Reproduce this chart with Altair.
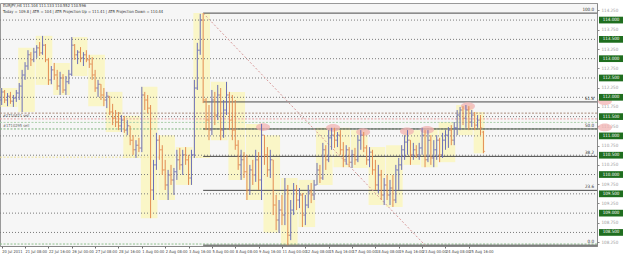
import altair as alt
import pandas as pd

# ---------------- data ----------------
high = [112.24, 112.19, 112.11, 112.14, 112.06, 112.19, 112.37, 112.71, 112.91, 113.22,
        113.17, 113.28, 113.35, 113.43, 113.59, 113.38, 113.02, 112.81, 112.89, 112.71,
        112.66, 112.60, 112.55, 112.71, 113.56, 113.38, 113.22, 113.30, 113.17, 113.22,
        113.10, 113.04, 112.71, 112.45, 112.34, 112.24, 112.14, 112.03, 111.83, 111.67,
        111.62, 111.54, 111.52, 111.41, 111.26, 111.02, 110.89, 110.95, 112.27, 112.14,
        112.06, 111.80, 110.38, 111.08, 111.02, 110.76, 110.38, 110.12, 110.25, 110.17,
        110.64, 110.69, 110.64, 110.71, 110.51, 110.64, 112.45, 113.41, 114.16, 114.18,
        111.98, 111.80, 112.19, 112.14, 112.32, 112.24, 111.93, 112.40, 112.14, 112.06,
        111.93, 110.89, 110.64, 110.58, 110.51, 110.25, 110.38, 110.64, 110.58, 111.31,
        111.02, 110.71, 110.64, 110.38, 109.47, 109.34, 109.47, 109.91, 109.73, 109.34,
        109.78, 109.73, 109.65, 109.52, 109.47, 109.73, 109.78, 109.86, 110.30, 110.25,
        110.82, 110.76, 111.15, 111.21, 111.21, 111.10, 111.15, 110.84, 110.76, 110.71,
        110.64, 110.69, 111.02, 111.15, 111.10, 110.76, 110.71, 110.64, 110.38, 110.25,
        110.12, 109.91, 109.99, 109.86, 109.99, 110.25, 110.43, 110.76, 111.02, 111.15,
        110.89, 110.82, 110.76, 110.82, 111.21, 111.15, 111.15, 111.02, 110.89, 111.02,
        110.95, 111.08, 111.15, 111.23, 111.28, 111.36, 111.67, 111.75, 111.77, 111.80,
        111.77, 111.67, 111.62, 111.54, 111.54, 111.13]
low = [111.80, 111.85, 111.77, 111.83, 111.75, 111.88, 111.93, 111.62, 112.45, 112.71,
       112.81, 112.91, 113.02, 113.07, 113.10, 112.91, 112.32, 112.34, 112.45, 112.19,
       112.06, 112.11, 112.06, 112.34, 112.55, 112.97, 112.86, 112.91, 112.81, 112.91,
       112.76, 112.45, 112.14, 112.01, 111.93, 111.77, 111.72, 111.54, 111.28, 111.23,
       111.15, 111.10, 111.08, 111.02, 110.76, 110.51, 110.43, 110.58, 110.58, 111.67,
       111.59, 108.87, 109.34, 110.12, 110.38, 109.99, 109.60, 109.34, 109.73, 109.47,
       109.86, 110.12, 109.99, 110.25, 109.73, 109.73, 110.43, 112.19, 113.10, 111.85,
       111.15, 110.89, 111.02, 111.28, 111.41, 110.89, 110.95, 111.54, 111.15, 110.89,
       110.64, 110.12, 109.86, 109.91, 109.34, 109.47, 109.73, 109.81, 109.60, 109.34,
       110.25, 109.94, 109.91, 108.95, 108.56, 108.49, 108.69, 108.69, 108.17, 108.30,
       108.95, 109.08, 109.13, 108.64, 108.69, 109.13, 109.26, 109.34, 109.73, 109.78,
       109.86, 110.12, 110.32, 110.64, 110.69, 110.71, 110.51, 110.19, 110.25, 110.19,
       110.17, 110.25, 110.32, 110.64, 110.58, 110.25, 110.19, 109.99, 109.60, 109.52,
       109.34, 109.21, 109.34, 109.21, 109.16, 109.26, 109.60, 110.12, 110.38, 110.51,
       110.25, 110.38, 110.43, 110.38, 110.51, 110.19, 110.32, 110.25, 110.19, 110.38,
       110.32, 110.43, 110.64, 110.69, 110.76, 110.76, 111.02, 111.15, 111.28, 111.21,
       111.15, 111.23, 111.15, 111.21, 111.02, 110.55]
open_ = [111.93, 112.14, 111.93, 112.03, 111.90, 111.98, 112.11, 112.29, 112.58, 112.81,
         113.10, 112.97, 113.17, 113.28, 113.15, 113.35, 112.97, 112.45, 112.71, 112.58,
         112.29, 112.50, 112.19, 112.40, 112.60, 113.35, 113.10, 113.17, 113.02, 113.10,
         112.97, 112.86, 112.58, 112.24, 112.34, 112.06, 111.93, 112.03, 111.62, 111.46,
         111.36, 111.26, 111.41, 111.15, 111.26, 110.89, 110.64, 110.76, 110.69, 112.06,
         111.93, 111.72, 109.60, 110.25, 110.89, 110.64, 110.12, 109.73, 109.99, 109.86,
         110.07, 110.38, 110.25, 110.51, 110.38, 109.91, 110.51, 112.24, 113.22, 114.00,
         111.93, 111.41, 111.15, 111.93, 111.54, 112.06, 111.15, 111.67, 112.06, 111.41,
         111.15, 110.76, 110.25, 110.38, 110.07, 109.60, 110.12, 109.99, 110.38, 109.86,
         111.02, 110.51, 110.12, 110.38, 109.21, 108.82, 109.08, 108.95, 109.60, 108.43,
         109.08, 109.60, 109.34, 109.47, 108.95, 109.21, 109.55, 109.47, 109.73, 110.12,
         109.91, 110.64, 110.38, 110.95, 111.02, 110.89, 111.02, 110.64, 110.38, 110.64,
         110.32, 110.51, 110.38, 110.89, 111.02, 110.69, 110.38, 110.58, 110.12, 109.73,
         109.99, 109.47, 109.73, 109.47, 109.65, 109.34, 110.12, 110.25, 110.64, 110.84,
         110.89, 110.51, 110.64, 110.51, 110.69, 111.02, 110.38, 110.89, 110.43, 110.64,
         110.89, 110.51, 110.89, 111.02, 111.15, 110.89, 111.21, 111.54, 111.67, 111.46,
         111.67, 111.36, 111.54, 111.28, 111.41, 111.10]
close = [112.14, 111.93, 112.03, 111.90, 111.98, 112.11, 112.29, 112.58, 112.81, 113.10,
         112.97, 113.17, 113.28, 113.15, 113.35, 112.97, 112.45, 112.71, 112.58, 112.29,
         112.50, 112.19, 112.40, 112.60, 113.35, 113.10, 113.17, 113.02, 113.10, 112.97,
         112.86, 112.58, 112.24, 112.34, 112.06, 111.93, 112.03, 111.62, 111.46, 111.36,
         111.26, 111.41, 111.15, 111.26, 110.89, 110.64, 110.76, 110.69, 112.06, 111.93,
         111.72, 109.60, 110.25, 110.89, 110.64, 110.12, 109.73, 109.99, 109.86, 110.07,
         110.38, 110.25, 110.51, 110.38, 109.91, 110.51, 112.24, 113.22, 114.00, 111.93,
         111.41, 111.15, 111.93, 111.54, 112.06, 111.15, 111.67, 112.06, 111.41, 111.15,
         110.76, 110.25, 110.38, 110.07, 109.60, 110.12, 109.99, 110.38, 109.86, 111.02,
         110.51, 110.12, 110.38, 109.21, 108.82, 109.08, 108.95, 109.60, 108.43, 109.08,
         109.60, 109.34, 109.47, 108.95, 109.21, 109.55, 109.47, 109.73, 110.12, 109.91,
         110.64, 110.38, 110.95, 111.02, 110.89, 111.02, 110.64, 110.38, 110.64, 110.32,
         110.51, 110.38, 110.89, 111.02, 110.69, 110.38, 110.58, 110.12, 109.73, 109.99,
         109.47, 109.73, 109.47, 109.65, 109.34, 110.12, 110.25, 110.64, 110.84, 110.89,
         110.51, 110.64, 110.51, 110.69, 111.02, 110.38, 110.89, 110.43, 110.64, 110.89,
         110.51, 110.89, 111.02, 111.15, 110.89, 111.21, 111.54, 111.67, 111.46, 111.67,
         111.36, 111.54, 111.28, 111.41, 111.21, 110.60]

date_ticks = [0, 8, 16, 24, 32, 40, 48, 56, 64, 72, 80, 88, 96, 104, 112, 120, 128, 136, 144, 152, 160]
date_labels = ["20 Jul 2011", "21 Jul 08:00", "22 Jul 16:00", "26 Jul 00:00", "27 Jul 08:00",
               "28 Jul 16:00", "1 Aug 00:00", "2 Aug 08:00", "3 Aug 16:00", "5 Aug 00:00",
               "8 Aug 08:00", "9 Aug 16:00", "11 Aug 00:00", "12 Aug 08:00", "15 Aug 16:00",
               "17 Aug 00:00", "18 Aug 08:00", "19 Aug 16:00", "23 Aug 00:00", "24 Aug 08:00",
               "25 Aug 16:00"]

grid_levels = [114.0, 113.5, 113.0, 112.5, 112.0, 111.5, 111.0, 110.5, 110.0, 109.5, 109.0, 108.5]
grid_texts = ["114.000", "113.500", "113.000", "112.500", "112.000", "111.500", "111.000",
              "110.500", "110.000", "109.500", "109.000", "108.500"]
axis_levels = [114.25, 113.75, 113.25, 112.75, 112.25, 111.75, 111.25, 110.75, 110.25,
               109.75, 109.25, 108.75, 108.25]

fib_names = ["100.0", "61.8", "50.0", "38.2", "23.6", "0.0"]
fib_prices = [114.18, 111.88, 111.18, 110.47, 109.59, 108.17]
fib_start = 69

trend_x = [69, 145]
trend_y = [114.18, 108.17]

order_names = ["#1710421 sell", "#1710295 sell"]
order_prices = [111.49, 111.23]

pink_x = [89.5, 113.5, 123.8, 138.8, 145.7, 159.7, 206.6, 206.6]
pink_y = [111.23, 111.21, 111.10, 111.12, 111.16, 111.77, 111.90, 111.22]

title_line1 = "EURJPY,H4 111.104 111.133 110.552 110.596"
title_line2 = "Today = 109.8 | ATR = 104 | ATR Projection Up = 111.41 | ATR Projection Down = 110.44"

# ---------------- styling ----------------
X0, X1 = -0.58, 203.9
Y0, Y1 = 108.149, 114.442
UP, DOWN = "#6b6fb8", "#e38c52"
FONT = "DejaVu Sans"
SMALL = "Liberation Sans Narrow, DejaVu Sans Condensed, Liberation Sans, sans-serif"

xs = alt.Scale(domain=[X0, X1], nice=False, zero=False)
ys = alt.Scale(domain=[Y0, Y1], nice=False, zero=False)

label_js = "[" + ",".join("'" + s + "'" for s in date_labels) + "]"
xaxis = alt.Axis(values=date_ticks, labelExpr=label_js + "[round(datum.value/8)]",
                 labelAlign="left", labelFontSize=4, labelColor="#444", labelFont=SMALL,
                 tickSize=2, tickColor="#666", domainColor="#888", grid=False,
                 labelPadding=1, labelOverlap=False, labelFlush=False)
yaxis = alt.Axis(orient="right", values=axis_levels, format=".3f", labelFontSize=4.5,
                 labelColor="#999", labelFont=SMALL, tickSize=2, tickColor="#888",
                 domainColor="#888", grid=False, labelPadding=2)


def X(f):
    return alt.X(f, type="quantitative", scale=xs, axis=xaxis, title=None)


def Y(f):
    return alt.Y(f, type="quantitative", scale=ys, axis=yaxis, title=None)


n = len(high)
bars = pd.DataFrame({"i": list(range(n)), "o": open_, "h": high, "l": low, "c": close})
bars["dir"] = ["up" if c >= o else "down" for o, c in zip(open_, close)]
bars["day"] = bars["i"] // 6
days = bars.groupby("day").agg(x1=("i", "min"), x2=("i", "max"), lo=("l", "min"), hi=("h", "max")).reset_index()
days["x1"] = days["x1"] - 0.35
days["x2"] = days["x2"] + 0.35

color = alt.Color("dir:N", scale=alt.Scale(domain=["up", "down"], range=[UP, DOWN]), legend=None)

boxes = alt.Chart(days).mark_rect(color="#fbf6c2", opacity=0.9).encode(
    x=X("x1"), x2="x2", y=Y("lo"), y2="hi")

grid_df = pd.DataFrame({"y": grid_levels, "t": grid_texts, "xa": X0, "xb": X1})
grid = alt.Chart(grid_df).mark_rule(color="#7a7a7a", strokeDash=[1, 2], strokeWidth=1).encode(
    x=X("xa"), x2="xb", y=Y("y"))

extra_df = pd.DataFrame({"y": [111.59, 111.44, 111.35, 111.18, 110.45, 108.20],
                         "xa": [X0, X0, X0, X0, X0, X0],
                         "xb": [X1, X1, X1, X1, fib_start, X1],
                         "c": ["#a88a7a", "#e2a0a0", "#a9cfa9", "#7fb27f", "#eee29a", "#8fc08f"],
                         "k": ["a", "b", "c", "d", "e", "f"]})
extra = alt.Chart(extra_df).mark_rule(strokeDash=[2, 1.5], strokeWidth=1).encode(
    x=X("xa"), x2="xb", y=Y("y"), color=alt.Color("c:N", scale=None), detail="k:N")

fib_df = pd.DataFrame({"name": fib_names, "y": fib_prices, "xa": fib_start, "xb": X1})
fib = alt.Chart(fib_df).mark_rule(color="#4a4a4a", strokeWidth=1).encode(
    x=X("xa"), x2="xb", y=Y("y"))
fib_txt = alt.Chart(fib_df).mark_text(align="right", baseline="bottom", fontSize=4.5, font=SMALL,
                                      color="#333", dy=-1).encode(
    x=alt.value(594), y=Y("y"), text="name:N")

trend_df = pd.DataFrame({"x": trend_x, "y": trend_y})
trend = alt.Chart(trend_df).mark_line(color="#d89a9a", strokeDash=[2, 2], strokeWidth=1).encode(
    x=X("x"), y=Y("y"))

pink_df = pd.DataFrame({"x": pink_x, "y": pink_y})
pink = alt.Chart(pink_df).mark_point(
    shape="M -1 0 A 1 0.55 0 1 0 1 0 A 1 0.55 0 1 0 -1 0 Z", filled=True, size=196,
    color="#f1b3b3", opacity=0.75, clip=False).encode(x=X("x"), y=Y("y"))

wick = alt.Chart(bars).mark_rule(strokeWidth=1).encode(x=X("i"), y=Y("l"), y2="h", color=color)
otick = alt.Chart(bars).mark_tick(orient="horizontal", size=1.6, thickness=1, xOffset=-0.9).encode(
    x=X("i"), y=Y("o"), color=color)
ctick = alt.Chart(bars).mark_tick(orient="horizontal", size=1.6, thickness=1, xOffset=0.9).encode(
    x=X("i"), y=Y("c"), color=color)

order_df = pd.DataFrame({"t": order_names, "y": order_prices})
order_txt = alt.Chart(order_df).mark_text(align="left", baseline="bottom", fontSize=4, font=SMALL,
                                          color="#666", dy=1).encode(
    x=alt.value(3), y=Y("y"), text="t:N")

gbox = alt.Chart(grid_df).mark_point(
    shape="M -1 -0.28 L 1 -0.28 L 1 0.28 L -1 0.28 Z", filled=True, size=576,
    color="#1f6e1f", opacity=1, clip=False).encode(x=alt.value(611), y=Y("y"))
gtxt = alt.Chart(grid_df).mark_text(fontSize=4.5, font=SMALL, color="#ffffff", clip=False).encode(
    x=alt.value(611), y=Y("y"), text="t:N")

title1 = alt.Chart(pd.DataFrame({"t": [title_line1]})).mark_text(
    align="left", baseline="top", fontSize=4, font=SMALL, color="#333").encode(
    x=alt.value(3), y=alt.value(1), text="t:N")
title2 = alt.Chart(pd.DataFrame({"t": [title_line2]})).mark_text(
    align="left", baseline="top", fontSize=4, font=SMALL, color="#333").encode(
    x=alt.value(3), y=alt.value(7), text="t:N")

chart = alt.layer(boxes, grid, extra, fib, trend, pink, wick, otick, ctick, fib_txt, order_txt,
                  gbox, gtxt, title1, title2).properties(
    width=597, height=243,
    padding={"left": 0, "top": 3, "right": 28, "bottom": 12},
    autosize=alt.AutoSizeParams(type="none"),
    background="#ffffff",
).configure_view(fill="#f6f6f6", stroke="#999999", strokeWidth=1)

chart.save("out.html", embed_options={"renderer": "svg", "actions": False})
